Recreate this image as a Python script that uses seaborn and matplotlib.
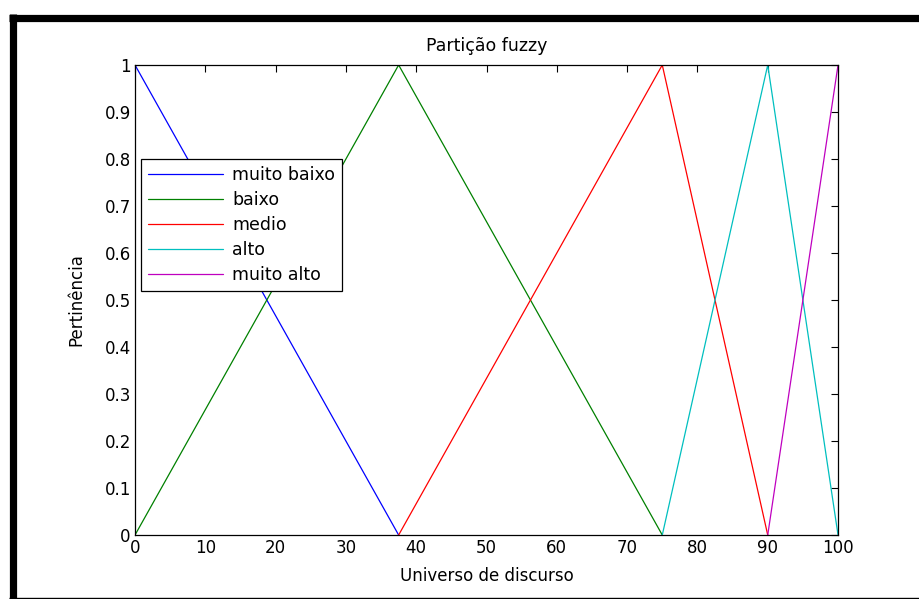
import numpy as np
import pandas as pd
import matplotlib
matplotlib.use('Agg')
import matplotlib.pyplot as plt
from matplotlib.lines import Line2D
import seaborn as sns

# fuzzy partition: breakpoints of each membership function
series = ['muito baixo', 'baixo', 'medio', 'alto', 'muito alto']
x_muito_baixo = [0, 37.5]
y_muito_baixo = [1, 0]
x_baixo = [0, 37.5, 75]
y_baixo = [0, 1, 0]
x_medio = [37.5, 75, 90]
y_medio = [0, 1, 0]
x_alto = [75, 90, 100]
y_alto = [0, 1, 0]
x_muito_alto = [90, 100]
y_muito_alto = [0, 1]

colors = ['#0000ff', '#008000', '#ff0000', '#00bfbf', '#bf00bf']
xticks = list(range(0, 101, 10))
yticks = [0, 0.1, 0.2, 0.3, 0.4, 0.5, 0.6, 0.7, 0.8, 0.9, 1]
ytick_labels = ['0', '0.1', '0.2', '0.3', '0.4', '0.5', '0.6', '0.7', '0.8', '0.9', '1']

xs = [x_muito_baixo, x_baixo, x_medio, x_alto, x_muito_alto]
ys = [y_muito_baixo, y_baixo, y_medio, y_alto, y_muito_alto]
rows = []
for name, xv, yv in zip(series, xs, ys):
    for i, (a, b) in enumerate(zip(xv, yv)):
        rows.append({'serie': name, 'x': a, 'y': b, 'ordem': i})
df = pd.DataFrame(rows)

sns.set_style('white')
plt.rcParams['font.family'] = ['DejaVu Sans']
plt.rcParams['font.size'] = 12
plt.rcParams['text.color'] = 'black'
plt.rcParams['axes.labelcolor'] = 'black'

fig = plt.figure(figsize=(9.19, 5.99), dpi=100)
ax = fig.add_axes([0.1469, 0.1068, 0.765, 0.7847])

sns.lineplot(data=df, x='x', y='y', hue='serie', hue_order=series,
             palette=colors, sort=False, estimator=None, linewidth=0.9, ax=ax)

ax.set_xlim(0, 100)
ax.set_ylim(0, 1)
ax.set_xticks(xticks)
ax.set_yticks(yticks)
ax.set_yticklabels(ytick_labels)
ax.tick_params(direction='in', length=5, width=0.8, top=True, right=True,
               labelsize=12, colors='black', pad=3)
for s in ax.spines.values():
    s.set_color('black')
    s.set_linewidth(0.9)
ax.set_xlabel('Universo de discurso', fontsize=12, labelpad=7, color='black')
ax.set_ylabel('Pertinência', fontsize=12, labelpad=14, color='black')
ax.set_title('Partição fuzzy', fontsize=12.5, pad=10, color='black')

leg = ax.legend(loc='upper left', bbox_to_anchor=(0.0085, 0.80), borderaxespad=0,
                frameon=True, fancybox=False, edgecolor='black', framealpha=1,
                handlelength=4.3, labelspacing=0.4, fontsize=12.5, borderpad=0.4,
                handletextpad=0.55)
leg.get_frame().set_linewidth(0.9)
for t in leg.get_texts():
    t.set_color('black')

# outer black frame of the screenshot
fig.add_artist(Line2D([9 / 919, 1], [1 - 17.5 / 599, 1 - 17.5 / 599], color='black',
                      linewidth=5.2, solid_capstyle='butt', transform=fig.transFigure))
fig.add_artist(Line2D([12.5 / 919, 12.5 / 919], [0, 1 - 14 / 599], color='black',
                      linewidth=5.2, solid_capstyle='butt', transform=fig.transFigure))
fig.add_artist(Line2D([9 / 919, 1], [1.5 / 599, 1.5 / 599], color='black',
                      linewidth=1, solid_capstyle='butt', transform=fig.transFigure))

fig.savefig('out.png', dpi=100)
